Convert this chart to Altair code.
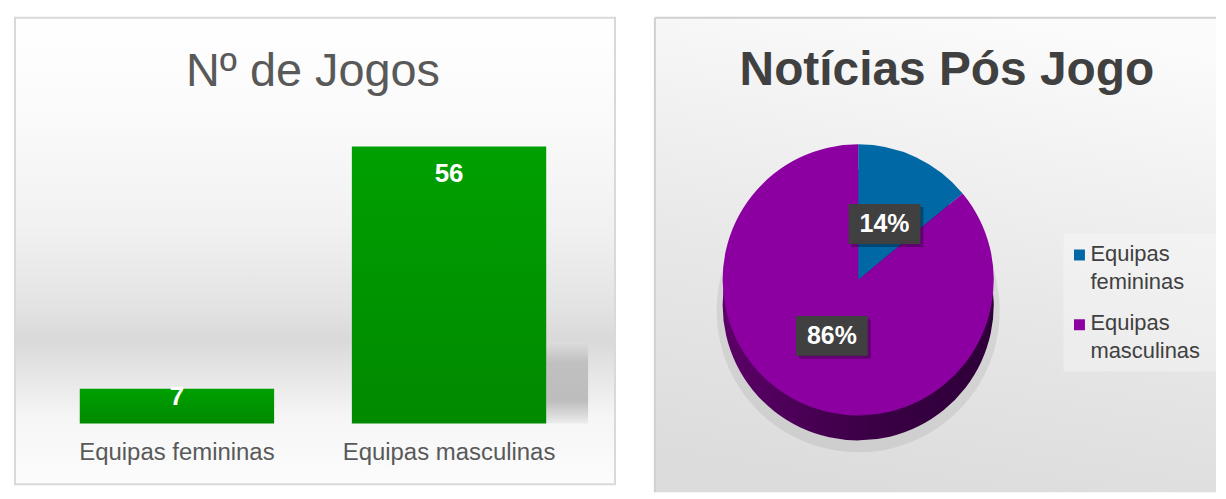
import altair as alt
import pandas as pd

# ---------------- data ----------------
CATEGORIES = ["Equipas femininas", "Equipas masculinas"]
JOGOS = [7, 56]
NOTICIAS = [14, 86]
LEGEND_LABELS = ["Equipas\nfemininas", "Equipas\nmasculinas"]
TITLE_LEFT = "Nº de Jogos"
TITLE_RIGHT = "Notícias Pós Jogo"
PIE_COLORS = ["#0068a5", "#8c00a1"]

FONT = "Liberation Sans"

# panel sizes (px)
LW, LH = 602, 468
RW, RH = 563, 476

df_left = pd.DataFrame({"cat": CATEGORIES, "jogos": JOGOS, "idx": list(range(len(CATEGORIES)))})
df_right = pd.DataFrame({"cat": CATEGORIES, "noticias": NOTICIAS, "leg": LEGEND_LABELS,
                         "idx": list(range(len(CATEGORIES)))})
one = pd.DataFrame({"a": [0]})

# ---------------- left panel: bar chart ----------------
xband = alt.X("cat:N", scale=alt.Scale(domain=CATEGORIES, range=[65, 533],
                                       paddingInner=0.2857, paddingOuter=0), axis=None)
yscale = alt.Scale(domain=[0, 82], range=[407, 0], nice=False, zero=False)

bg_left = alt.Chart(one).mark_rect(
    fill=alt.Gradient(gradient="linear", x1=0, y1=0, x2=0, y2=1, stops=[
        alt.GradientStop(offset=0.0, color="#ffffff"),
        alt.GradientStop(offset=0.22, color="#fafafa"),
        alt.GradientStop(offset=0.45, color="#f1f1f1"),
        alt.GradientStop(offset=0.62, color="#e3e3e3"),
        alt.GradientStop(offset=0.69, color="#d9d9d9"),
        alt.GradientStop(offset=0.77, color="#e7e7e7"),
        alt.GradientStop(offset=0.86, color="#f6f6f6"),
        alt.GradientStop(offset=1.0, color="#fcfcfc"),
    ]),
    stroke="#d9d9d9", strokeWidth=2,
).encode(x=alt.value(0), x2=alt.value(LW), y=alt.value(0), y2=alt.value(LH))

title_left = alt.Chart(one).mark_text(
    text=TITLE_LEFT, font=FONT, fontSize=47, color="#595959", align="center", baseline="alphabetic"
).encode(x=alt.value(299), y=alt.value(68))

bar_shadow = alt.Chart(df_left).transform_calculate(
    st="max(0, 0.34*datum.jogos - 2.7)"
).mark_bar(
    width=42, xOffset=118.5,
    fill=alt.Gradient(gradient="linear", x1=0, y1=0, x2=0, y2=1, stops=[
        alt.GradientStop(offset=0.0, color="#dcdcdc"),
        alt.GradientStop(offset=0.25, color="#c0c0c0"),
        alt.GradientStop(offset=0.72, color="#bdbdbd"),
        alt.GradientStop(offset=1.0, color="#ececec"),
    ]),
).encode(x=xband, y=alt.Y("st:Q", scale=yscale, axis=None), y2=alt.datum(0))

bars = alt.Chart(df_left).mark_bar(
    fill=alt.Gradient(gradient="linear", x1=0, y1=0, x2=0, y2=1, stops=[
        alt.GradientStop(offset=0.0, color="#00a000"),
        alt.GradientStop(offset=1.0, color="#008900"),
    ]),
).encode(x=xband, y=alt.Y("jogos:Q", scale=yscale, axis=None), y2=alt.datum(0))

cat_labels = alt.Chart(df_left).mark_text(
    font=FONT, fontSize=24, color="#595959", align="center", baseline="alphabetic"
).encode(x=xband, y=alt.value(444), text="cat:N")

val_labels = alt.Chart(df_left).transform_calculate(
    ly="datum.jogos > 10 ? datum.jogos - 5.55 : datum.jogos - 1.6"
).mark_text(
    font=FONT, fontSize=26, fontWeight="bold", color="white", align="center", baseline="middle"
).encode(x=xband, y=alt.Y("ly:Q", scale=yscale, axis=None), text="jogos:Q")

left = alt.layer(bg_left, title_left, bar_shadow, bars, cat_labels, val_labels).properties(
    width=LW, height=LH
)

# ---------------- right panel: pie chart ----------------
sx = alt.Scale(domain=[0, RW], range=[0, RW], nice=False, zero=False)
sy = alt.Scale(domain=[0, RH], range=[0, RH], nice=False, zero=False)
color_scale = alt.Scale(domain=CATEGORIES, range=PIE_COLORS)

CX, CY, R, DEPTH, LR = 204, 263, 136, 25, 62

bg_right = alt.Chart(one).mark_rect(
    fill=alt.Gradient(gradient="linear", x1=0.6, y1=0, x2=0.4, y2=1, stops=[
        alt.GradientStop(offset=0.0, color="#fbfbfb"),
        alt.GradientStop(offset=0.55, color="#e8e8e8"),
        alt.GradientStop(offset=1.0, color="#dcdcdc"),
    ]),
).encode(x=alt.value(0), x2=alt.value(RW), y=alt.value(0), y2=alt.value(RH))

border_left = alt.Chart(one).mark_rule(color="#d0d0d0", strokeWidth=2).encode(
    x=alt.value(0), y=alt.value(0), y2=alt.value(RH))
border_top = alt.Chart(one).mark_rule(color="#d0d0d0", strokeWidth=2).encode(
    x=alt.value(0), x2=alt.value(RW), y=alt.value(0))

title_right = alt.Chart(one).mark_text(
    text=TITLE_RIGHT, font=FONT, fontSize=48, fontWeight="bold", color="#404040",
    align="center", baseline="alphabetic"
).encode(x=alt.value(293), y=alt.value(67))

pie_base = alt.Chart(df_right).encode(
    theta=alt.Theta("noticias:Q", stack=True),
    order=alt.Order("idx:Q"),
)

pie_shadow = pie_base.mark_arc(radius=R + 6, fill="#000000", opacity=0.07).encode(
    x=alt.value(CX), y=alt.value(CY + DEPTH + 6))

pie_side = pie_base.mark_arc(
    radius=R,
    fill=alt.Gradient(gradient="linear", x1=0, y1=0, x2=1, y2=0, stops=[
        alt.GradientStop(offset=0.0, color="#5c0068"),
        alt.GradientStop(offset=0.55, color="#3a0045"),
        alt.GradientStop(offset=1.0, color="#2e0038"),
    ]),
).encode(x=alt.value(CX), y=alt.value(CY + DEPTH))

pie_top = pie_base.mark_arc(radius=R).encode(
    x=alt.value(CX), y=alt.value(CY),
    color=alt.Color("cat:N", scale=color_scale, legend=None),
)

lab = alt.Chart(df_right).transform_window(
    cum="sum(noticias)", sort=[alt.SortField("idx", order="ascending")], frame=[None, 0]
).transform_joinaggregate(
    total="sum(noticias)"
).transform_calculate(
    ang="2*PI*(datum.cum - datum.noticias/2)/datum.total",
).transform_calculate(
    lx=f"{CX} + {LR}*sin(datum.ang)",
    ly=f"{CY} - {LR}*cos(datum.ang)",
    pct="format(datum.noticias/datum.total, '.0%')",
).transform_calculate(
    bx1="datum.lx - 36", bx2="datum.lx + 36", by1="datum.ly - 20", by2="datum.ly + 20",
    sx1="datum.lx - 33", sx2="datum.lx + 39", sy1="datum.ly - 17", sy2="datum.ly + 23",
)

box_shadow = lab.mark_rect(fill="#000000", opacity=0.3).encode(
    x=alt.X("sx1:Q", scale=sx, axis=None), x2="sx2:Q",
    y=alt.Y("sy1:Q", scale=sy, axis=None), y2="sy2:Q")

boxes = lab.mark_rect(fill="#404040").encode(
    x=alt.X("bx1:Q", scale=sx, axis=None), x2="bx2:Q",
    y=alt.Y("by1:Q", scale=sy, axis=None), y2="by2:Q")

pct_text = lab.mark_text(
    font=FONT, fontSize=25, fontWeight="bold", color="white", align="center", baseline="middle"
).encode(x=alt.X("lx:Q", scale=sx, axis=None), y=alt.Y("ly:Q", scale=sy, axis=None), text="pct:N")

legend_box = alt.Chart(one).mark_rect(fill="#ffffff", opacity=0.3).encode(
    x=alt.value(410), x2=alt.value(RW), y=alt.value(217), y2=alt.value(355))

leg = alt.Chart(df_right).transform_calculate(
    sqy="238 + 70*datum.idx", ty="244 + 69*datum.idx")

leg_sq = leg.mark_square(size=121, filled=True, opacity=1).encode(
    x=alt.value(426), y=alt.Y("sqy:Q", scale=sy, axis=None),
    color=alt.Color("cat:N", scale=color_scale, legend=None))

leg_txt = leg.mark_text(
    font=FONT, fontSize=22, color="#404040", align="left", baseline="alphabetic",
    lineBreak="\n", lineHeight=28.5
).encode(x=alt.value(437), y=alt.Y("ty:Q", scale=sy, axis=None), text="leg:N")

right = alt.layer(
    bg_right, border_left, border_top, title_right,
    pie_shadow, pie_side, pie_top, box_shadow, boxes, pct_text,
    legend_box, leg_sq, leg_txt
).properties(width=RW, height=RH)

chart = alt.hconcat(left, right, spacing=36).properties(
    padding={"left": 5, "top": 7, "right": 0, "bottom": 0}
).configure_view(stroke="transparent")

chart.save("out.html", embed_options={"renderer": "svg", "actions": False})
